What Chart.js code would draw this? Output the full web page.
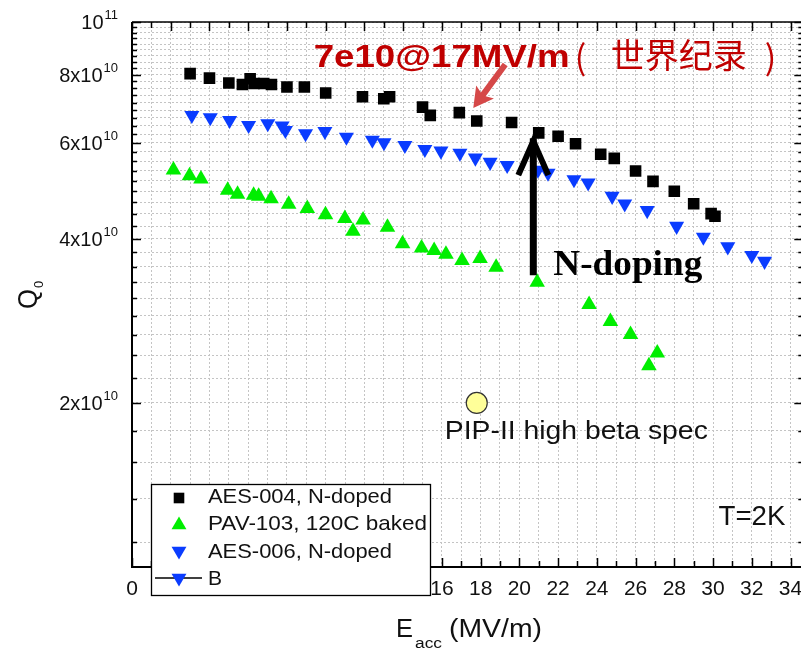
<!DOCTYPE html>
<html>
<head>
<meta charset="utf-8">
<script src="https://cdn.jsdelivr.net/npm/chart.js@4.4.0/dist/chart.umd.min.js"></script>
<style>
  html, body { margin: 0; padding: 0; background: #fff; overflow: hidden; }
  canvas { display: block; }
</style>
</head>
<body>
<canvas id="q0-chart" width="815" height="650"></canvas>
<script>
// E_acc (MV/m) and Q0 (in units of 1e10)
const aes004E = [3.0, 4.0, 5.0, 5.7, 6.1, 6.3, 6.8, 7.2, 8.0, 8.9, 10.0, 11.9, 13.0, 13.3, 15.0, 15.4, 16.9, 17.8, 19.6, 21.0, 22.0, 22.9, 24.2, 24.9, 26.0, 26.9, 28.0, 29.0, 29.9, 30.1];
const aes004Q = [8.04, 7.89, 7.73, 7.68, 7.87, 7.71, 7.71, 7.68, 7.60, 7.60, 7.41, 7.29, 7.23, 7.29, 6.98, 6.74, 6.82, 6.58, 6.54, 6.26, 6.17, 5.98, 5.72, 5.62, 5.33, 5.10, 4.89, 4.64, 4.45, 4.40];

const pav103E = [2.14, 2.97, 3.56, 4.94, 5.45, 6.28, 6.54, 7.18, 8.09, 9.05, 9.99, 10.99, 11.41, 11.93, 13.19, 13.97, 14.95, 15.6, 16.21, 17.04, 17.97, 18.8, 20.92, 23.6, 24.7, 25.74, 26.69, 27.12];
const pav103Q = [5.35, 5.22, 5.15, 4.91, 4.83, 4.81, 4.79, 4.74, 4.63, 4.55, 4.43, 4.36, 4.13, 4.33, 4.20, 3.92, 3.85, 3.81, 3.75, 3.65, 3.68, 3.55, 3.33, 3.03, 2.82, 2.67, 2.34, 2.47];

const aes006E = [3.09, 4.04, 5.04, 6.02, 7.01, 7.75, 7.92, 8.96, 9.96, 11.07, 12.41, 13.01, 14.09, 15.12, 15.95, 16.93, 17.73, 18.49, 19.37, 20.96, 21.48, 22.82, 23.55, 24.79, 25.44, 26.6, 28.12, 29.5, 30.76, 32.0, 32.66];
const aes006Q = [6.74, 6.68, 6.60, 6.46, 6.51, 6.45, 6.33, 6.24, 6.30, 6.15, 6.07, 6.01, 5.94, 5.84, 5.80, 5.75, 5.63, 5.53, 5.46, 5.35, 5.28, 5.14, 5.07, 4.79, 4.64, 4.51, 4.22, 4.03, 3.87, 3.73, 3.64];

const pipSpecE = [17.8];
const pipSpecQ = [2.0];

// axis ticks
const xTickLabels = [0, 2, 4, 6, 8, 10, 12, 14, 16, 18, 20, 22, 24, 26, 28, 30, 32, 34];
const yMajorTicks = [2, 4, 6, 8, 10];
const yMantissas = ["2x10", "4x10", "6x10", "8x10", "10"];
const yExponents = ["10", "10", "10", "10", "11"];

const legendLabels = ["AES-004, N-doped", "PAV-103, 120C baked", "AES-006, N-doped", "B"];

const SANS = "'Liberation Sans', Arial, sans-serif";
const CJK = "'Noto Sans CJK SC', sans-serif";
const RED = "#c00000";
const BLUE = "#0a3cff";
const GREEN = "#00ee00";

// minor ticks: 8 between majors (Origin style)
const yGridTicks = [];
for (let k = 5; k <= 45; k++) yGridTicks.push((2 * k) / 9);
const xGridTicks = [];
for (let v = 0; v <= 34; v++) xGridTicks.push(v);

const toPoints = (xs, ys) => xs.map((v, i) => ({ x: v, y: ys[i] }));

// draw text, optionally stretched to a given width
function drawText(ctx, s, x, y, font, color, w, align) {
  ctx.save();
  ctx.font = font;
  ctx.fillStyle = color;
  ctx.textAlign = "left";
  ctx.textBaseline = "alphabetic";
  const m = ctx.measureText(s).width;
  const sx = w ? w / m : 1;
  let x0 = x;
  if (align === "right") x0 = x - m * sx;
  else if (align === "center") x0 = x - (m * sx) / 2;
  ctx.translate(x0, y);
  ctx.scale(sx, 1);
  ctx.fillText(s, 0, 0);
  ctx.restore();
  return m * sx;
}

function marker(ctx, style, x, y, r, color) {
  ctx.save();
  ctx.fillStyle = color;
  ctx.beginPath();
  if (style === "rect") {
    const s = Math.SQRT1_2 * r;
    ctx.rect(x - s, y - s, 2 * s, 2 * s);
  } else {
    const d = style === "down" ? -1 : 1;
    ctx.moveTo(x, y - d * r);
    ctx.lineTo(x + 0.866 * r, y + d * 0.5 * r);
    ctx.lineTo(x - 0.866 * r, y + d * 0.5 * r);
    ctx.closePath();
  }
  ctx.fill();
  ctx.restore();
}

const decorPlugin = {
  id: "decor",
  afterDraw(chart) {
    const { ctx, chartArea: a, scales } = chart;
    const xs = scales.x;
    const ys = scales.y;

    // frame
    ctx.save();
    ctx.strokeStyle = "#000";
    ctx.lineWidth = 2;
    ctx.beginPath();
    ctx.moveTo(a.left, a.top);
    ctx.lineTo(a.left, a.bottom);
    ctx.lineTo(a.right, a.bottom);
    ctx.stroke();
    ctx.lineWidth = 1.5;
    ctx.beginPath();
    ctx.moveTo(a.left, a.top);
    ctx.lineTo(a.right, a.top);
    ctx.stroke();

    // ticks (inward)
    ctx.lineWidth = 1.5;
    ctx.beginPath();
    xGridTicks.forEach((v) => {
      const px = Math.round(xs.getPixelForValue(v)) + 0.5;
      const len = v % 2 === 0 ? 9 : 6;
      ctx.moveTo(px, a.bottom);
      ctx.lineTo(px, a.bottom - len);
      ctx.moveTo(px, a.top);
      ctx.lineTo(px, a.top + len);
    });
    yGridTicks.forEach((v, i) => {
      const py = Math.round(ys.getPixelForValue(v)) + 0.5;
      const len = (i + 5) % 9 === 0 ? 9 : 5;
      ctx.moveTo(a.left, py);
      ctx.lineTo(a.left + len, py);
      ctx.moveTo(a.right, py);
      ctx.lineTo(a.right - len, py);
    });
    ctx.stroke();
    ctx.restore();

    // y tick labels with superscript exponent
    yMajorTicks.forEach((v, i) => {
      const py = ys.getPixelForValue(v);
      ctx.font = "13px " + SANS;
      const supW = ctx.measureText(yExponents[i]).width;
      const right = a.left - 14;
      drawText(ctx, yExponents[i], right, py - 3, "13px " + SANS, "#111", null, "right");
      drawText(ctx, yMantissas[i], right - supW - 1, py + 7, "20px " + SANS, "#111", null, "right");
    });

    // x tick labels
    xTickLabels.forEach((v) => {
      const px = xs.getPixelForValue(v);
      drawText(ctx, String(v), px, a.bottom + 28, "21px " + SANS, "#111", null, "center");
    });

    // axis titles
    ctx.save();
    ctx.translate(37, 309);
    ctx.rotate(-Math.PI / 2);
    const qw = drawText(ctx, "Q", 0, 0, "28px " + SANS, "#111", 20);
    drawText(ctx, "0", qw + 1, 6, "13px " + SANS, "#111");
    ctx.restore();

    let tx = 396;
    tx += drawText(ctx, "E", tx, 637, "25px " + SANS, "#111", 17);
    tx += drawText(ctx, "acc", tx + 2, 648, "14px " + SANS, "#111", 27) + 9;
    drawText(ctx, "(MV/m)", tx, 637, "25px " + SANS, "#111", 93);

    // annotations anchored in data space
    const P = (ex, q) => [xs.getPixelForValue(ex), ys.getPixelForValue(q)];

    let [rx, ry] = P(9.38, 8.26);
    const lw = drawText(ctx, "7e10@17MV/m", rx, ry, "bold 32px " + SANS, RED, 256);
    drawText(ctx, "(", rx + lw + 5, ry + 3, "34px " + CJK, RED);
    drawText(ctx, "世界纪录", rx + lw + 41, ry + 1, "34px " + CJK, RED, 136);
    drawText(ctx, ")", rx + lw + 195, ry + 3, "34px " + CJK, RED);

    // red arrow
    const [t0x, t0y] = P(19.27, 8.36);
    const [t1x, t1y] = P(17.62, 6.95);
    const ang = Math.atan2(t1y - t0y, t1x - t0x);
    ctx.save();
    ctx.translate(t1x, t1y);
    ctx.rotate(ang);
    const L = Math.hypot(t1x - t0x, t1y - t0y);
    ctx.fillStyle = "#d54848";
    ctx.beginPath();
    ctx.moveTo(0, 0);
    ctx.lineTo(-20, -11);
    ctx.lineTo(-17, -3);
    ctx.lineTo(-L, -3);
    ctx.lineTo(-L, 3);
    ctx.lineTo(-17, 3);
    ctx.lineTo(-20, 11);
    ctx.closePath();
    ctx.fill();
    ctx.restore();

    // black N-doping arrow
    const [b0x, b0y] = P(20.72, 3.43);
    const [b1x, b1y] = P(20.72, 6.2);
    ctx.save();
    ctx.strokeStyle = "#000";
    ctx.lineWidth = 7;
    ctx.lineCap = "butt";
    ctx.beginPath();
    ctx.moveTo(b0x, b0y);
    ctx.lineTo(b1x, b1y + 3);
    ctx.stroke();
    ctx.lineJoin = "miter";
    ctx.lineWidth = 6;
    ctx.beginPath();
    ctx.moveTo(b1x - 15, b1y + 40);
    ctx.lineTo(b1x, b1y + 6);
    ctx.lineTo(b1x + 15, b1y + 40);
    ctx.stroke();
    ctx.restore();

    [rx, ry] = P(21.75, 3.43);
    drawText(ctx, "N-doping", rx, ry, "bold 35px 'Liberation Serif', 'Times New Roman', serif", "#000", 149);

    [rx, ry] = P(16.15, 1.715);
    drawText(ctx, "PIP-II high beta spec", rx, ry, "26px " + SANS, "#111", 263);

    [rx, ry] = P(30.28, 1.193);
    drawText(ctx, "T=2K", rx, ry, "28px " + SANS, "#111", 67);

    // legend box
    const lx = a.left + 19, ly = a.bottom - 83, lw2 = 279, lh = 111;
    ctx.save();
    ctx.fillStyle = "#fff";
    ctx.fillRect(lx, ly, lw2, lh);
    ctx.strokeStyle = "#000";
    ctx.lineWidth = 1.3;
    ctx.strokeRect(lx + 0.5, ly + 0.5, lw2, lh);
    ctx.restore();
    const mx = lx + 28;
    marker(ctx, "rect", mx, ly + 14, 7.5, "#000");
    marker(ctx, "up", mx, ly + 41, 8.6, GREEN);
    marker(ctx, "down", mx, ly + 67, 8.6, BLUE);
    ctx.save();
    ctx.strokeStyle = "#000";
    ctx.lineWidth = 1.5;
    ctx.beginPath();
    ctx.moveTo(lx + 4, ly + 94);
    ctx.lineTo(lx + 51, ly + 94);
    ctx.stroke();
    ctx.restore();
    marker(ctx, "down", mx, ly + 94, 8.6, BLUE);
    const tw = [184, 219, 184, null];
    legendLabels.forEach((s, i) => {
      drawText(ctx, s, lx + 57, ly + 19 + i * 27.4, "21px " + SANS, "#111", tw[i]);
    });
  },
};

new Chart(document.getElementById("q0-chart"), {
  type: "scatter",
  data: {
    datasets: [
      {
        label: legendLabels[0],
        data: toPoints(aes004E, aes004Q),
        pointStyle: "rect",
        pointRadius: 8.2,
        backgroundColor: "#000",
        borderWidth: 0,
      },
      {
        label: legendLabels[1],
        data: toPoints(pav103E, pav103Q),
        pointStyle: "triangle",
        pointRadius: 9,
        backgroundColor: GREEN,
        borderWidth: 0,
      },
      {
        label: legendLabels[2],
        data: toPoints(aes006E, aes006Q),
        pointStyle: "triangle",
        rotation: 180,
        pointRadius: 8.7,
        backgroundColor: BLUE,
        borderWidth: 0,
      },
      {
        label: "PIP-II high beta spec",
        data: toPoints(pipSpecE, pipSpecQ),
        pointStyle: "circle",
        pointRadius: 10.5,
        backgroundColor: "#ffff99",
        borderColor: "#333",
        borderWidth: 1.2,
      },
    ],
  },
  options: {
    responsive: false,
    animation: false,
    layout: { padding: { left: 132, right: 0, top: 22, bottom: 83 } },
    plugins: {
      legend: { display: false },
      tooltip: { enabled: false },
    },
    scales: {
      x: {
        type: "linear",
        min: 0,
        max: 34.66,
        afterBuildTicks: (scale) => {
          scale.ticks = xGridTicks.map((v) => ({ value: v }));
        },
        ticks: { display: false },
        grid: { color: "#c4c4c4", lineWidth: 1, drawTicks: false },
        border: { display: false, dash: [2, 2] },
      },
      y: {
        type: "logarithmic",
        min: 1,
        max: 10,
        afterBuildTicks: (scale) => {
          scale.ticks = yGridTicks.map((v) => ({ value: v }));
        },
        ticks: { display: false },
        grid: { color: "#c4c4c4", lineWidth: 1, drawTicks: false },
        border: { display: false, dash: [2, 2] },
      },
    },
  },
  plugins: [decorPlugin],
});
</script>
</body>
</html>
